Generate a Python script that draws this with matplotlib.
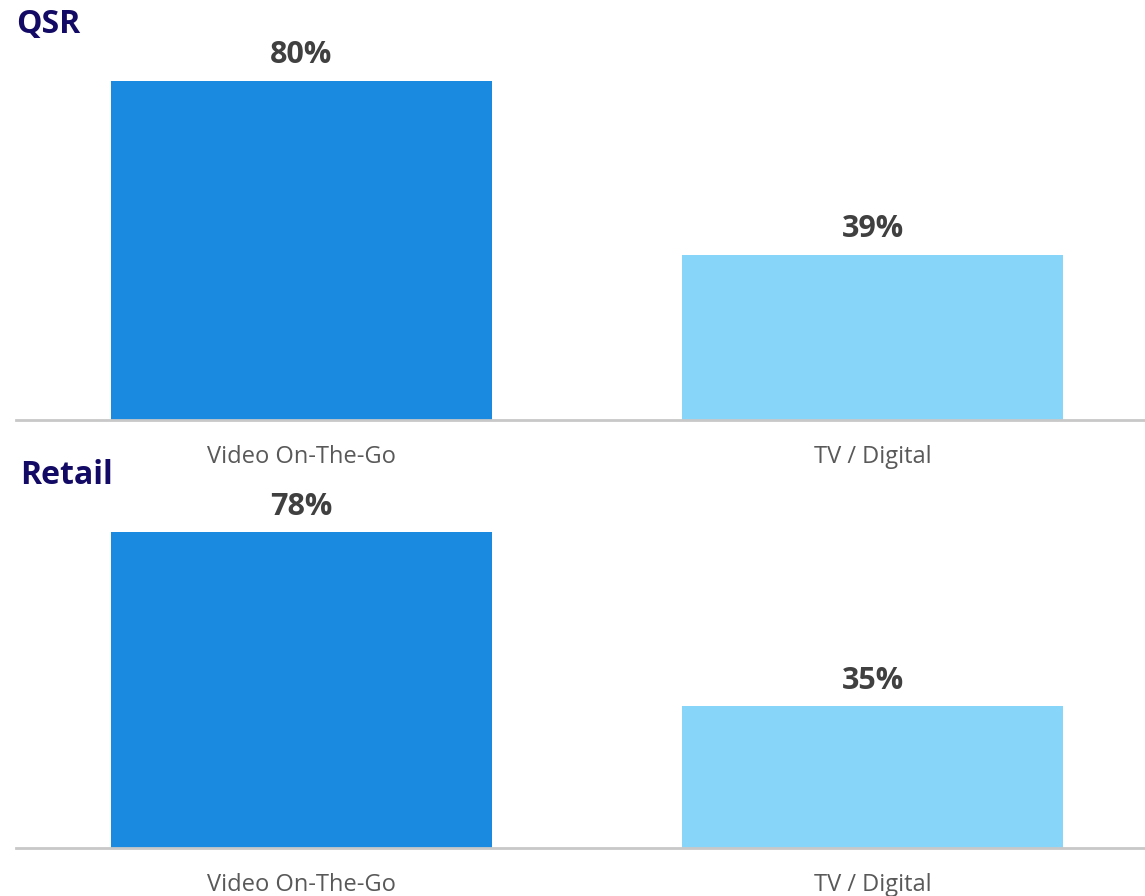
import matplotlib
matplotlib.use('Agg')
import matplotlib.pyplot as plt

plt.rcParams['font.family'] = ['Open Sans', 'DejaVu Sans']

# Chart data
categories = ['Video On-The-Go', 'TV / Digital']
qsr_values = [80, 39]
retail_values = [78, 35]
panel_titles = ['QSR', 'Retail']

bar_colors = ['#1a8ae0', '#87d6fa']
W, H = 1145, 896

fig = plt.figure(figsize=(W / 100, H / 100), dpi=100)


def px_axes(top, bottom, left=16, right=1145):
    return fig.add_axes([left / W, 1 - bottom / H, (right - left) / W, (bottom - top) / H])


def draw_panel(ax, values, ymax):
    x = range(len(categories))
    bars = ax.bar(x, values, width=0.667, color=bar_colors)
    ax.set_xlim(-0.5, 1.477)
    ax.set_ylim(0, ymax)
    for s in ['top', 'right', 'left']:
        ax.spines[s].set_visible(False)
    ax.spines['bottom'].set_color('#c8c8c8')
    ax.spines['bottom'].set_linewidth(2)
    ax.set_yticks([])
    ax.set_xticks(list(x))
    ax.set_xticklabels(categories, fontsize=17, color='#595959')
    ax.tick_params(axis='x', length=0, pad=18)
    for b, v in zip(bars, values):
        ax.annotate(f'{v}%', xy=(b.get_x() + b.get_width() / 2, v),
                    xytext=(0, 7.5), textcoords='offset points',
                    ha='center', va='bottom', fontsize=22, fontweight='bold',
                    color='#404040')


ax1 = px_axes(60, 420)
draw_panel(ax1, qsr_values, 360 / 4.24)
ax2 = px_axes(500, 848)
draw_panel(ax2, retail_values, 348 / 4.05)

fig.text(16 / W, 1 - 24 / H, panel_titles[0], fontsize=23, fontweight='bold',
         color='#120a64', ha='left', va='center')
fig.text(20 / W, 1 - 475 / H, panel_titles[1], fontsize=23, fontweight='bold',
         color='#120a64', ha='left', va='center')

fig.savefig('out.png', dpi=100)
